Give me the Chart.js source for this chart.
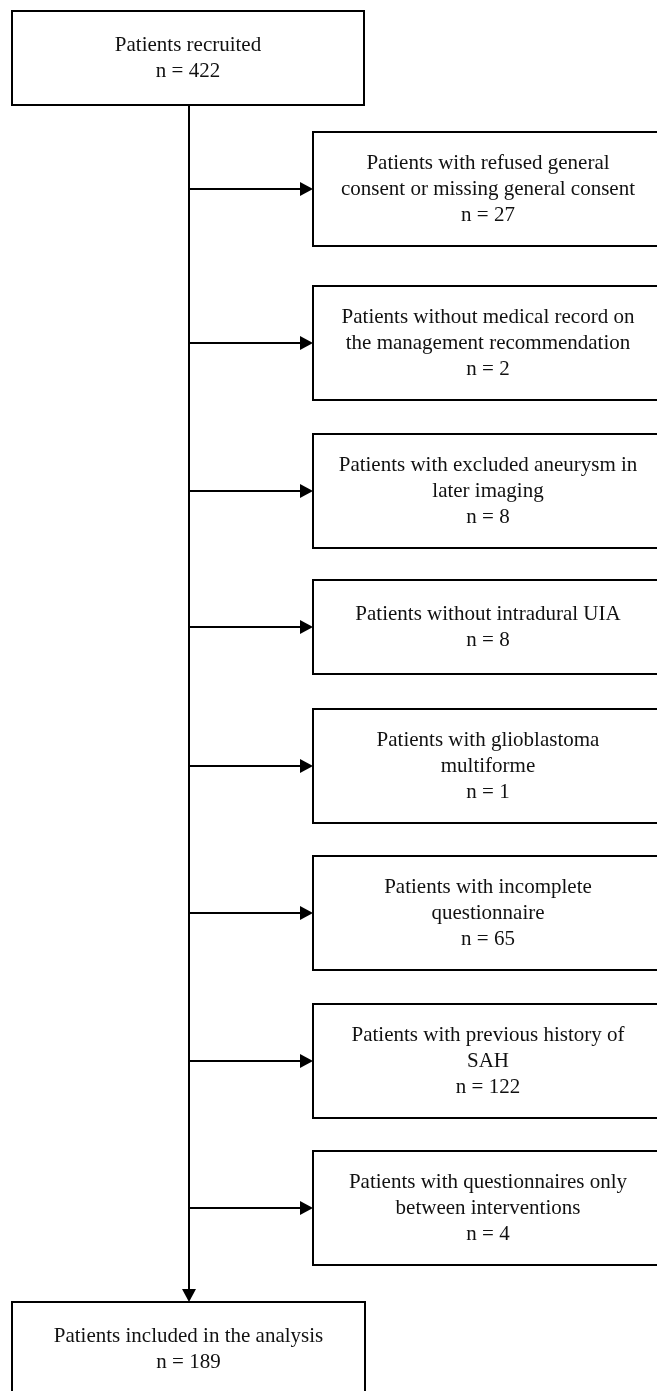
<!DOCTYPE html>
<html><head><meta charset="utf-8">
<script src="https://cdn.jsdelivr.net/npm/chart.js@4.4.1/dist/chart.umd.min.js"></script>
<style>html,body{margin:0;padding:0;background:#fff;overflow:hidden}</style>
</head><body>
<div style="width:657px;height:1391px;position:relative"><canvas id="c" width="657" height="1391"></canvas></div>
<script>
// ---- data ----
const startLabel = ["Patients recruited"];
const startCount = 422;
const exclusionLabels = [
  ["Patients with refused general", "consent or missing general consent"],
  ["Patients without medical record on", "the management recommendation"],
  ["Patients with excluded aneurysm in", "later imaging"],
  ["Patients without intradural UIA"],
  ["Patients with glioblastoma", "multiforme"],
  ["Patients with incomplete", "questionnaire"],
  ["Patients with previous history of", "SAH"],
  ["Patients with questionnaires only", "between interventions"]
];
const exclusionCounts = [27, 2, 8, 8, 1, 65, 122, 4];
const finalLabel = ["Patients included in the analysis"];
const finalCount = 189;

// ---- layout (chart units == px) ----
const L = {
  mainLeft: 12, mainRight: 364, mainTop: 11,
  spineX: 189,
  sideLeft: 313, sideRight: 663, sideFirstTop: 132,
  sideGaps: [40, 34, 32, 35, 33, 34, 33],
  finalTop: 1302,
  lineH: 26, boxH2: 94, boxH3: 114,
  arrowLen: 13, arrowHalf: 7,
  font: '21px "Liberation Serif", "Times New Roman", serif'
};

function boxHeight(nLines) { return nLines >= 3 ? L.boxH3 : L.boxH2; }

const flowPlugin = {
  id: 'flow',
  afterDraw(chart) {
    const ctx = chart.ctx, sx = chart.scales.x, sy = chart.scales.y;
    const X = v => sx.getPixelForValue(v), Y = v => sy.getPixelForValue(v);
    ctx.save();
    ctx.strokeStyle = '#000'; ctx.fillStyle = '#000'; ctx.lineWidth = 2;
    ctx.font = L.font; ctx.textAlign = 'center'; ctx.textBaseline = 'middle';

    function box(x0, x1, top, lines) {
      const h = boxHeight(lines.length);
      ctx.strokeRect(X(x0), Y(top), X(x1) - X(x0), Y(top + h) - Y(top));
      const cx = (x0 + x1) / 2, cy = top + h / 2;
      ctx.fillStyle = '#111';
      lines.forEach((t, i) => {
        const yy = cy + (i - (lines.length - 1) / 2) * L.lineH;
        ctx.fillText(t, X(cx), Y(yy));
      });
      ctx.fillStyle = '#000';
      return h;
    }
    function arrowRight(x0, x1, y) {
      ctx.beginPath(); ctx.moveTo(X(x0), Y(y)); ctx.lineTo(X(x1 - L.arrowLen), Y(y)); ctx.stroke();
      ctx.beginPath(); ctx.moveTo(X(x1), Y(y));
      ctx.lineTo(X(x1 - L.arrowLen), Y(y - L.arrowHalf));
      ctx.lineTo(X(x1 - L.arrowLen), Y(y + L.arrowHalf)); ctx.closePath(); ctx.fill();
    }
    function arrowDown(x, y0, y1) {
      ctx.beginPath(); ctx.moveTo(X(x), Y(y0)); ctx.lineTo(X(x), Y(y1 - L.arrowLen)); ctx.stroke();
      ctx.beginPath(); ctx.moveTo(X(x), Y(y1));
      ctx.lineTo(X(x - L.arrowHalf), Y(y1 - L.arrowLen));
      ctx.lineTo(X(x + L.arrowHalf), Y(y1 - L.arrowLen)); ctx.closePath(); ctx.fill();
    }

    const mainH = box(L.mainLeft, L.mainRight, L.mainTop, startLabel.concat(['n = ' + startCount]));
    let top = L.sideFirstTop;
    exclusionLabels.forEach((lab, i) => {
      const lines = lab.concat(['n = ' + exclusionCounts[i]]);
      const h = box(L.sideLeft, L.sideRight, top, lines);
      arrowRight(L.spineX, L.sideLeft, top + h / 2);
      top += h + (L.sideGaps[i] || 0);
    });
    arrowDown(L.spineX, L.mainTop + mainH, L.finalTop);
    box(L.mainLeft, L.mainRight + 1, L.finalTop, finalLabel.concat(['n = ' + finalCount]));
    ctx.restore();
  }
};

new Chart(document.getElementById('c'), {
  type: 'scatter',
  data: { datasets: [{ data: [], pointRadius: 0 }] },
  options: {
    responsive: false, animation: false, devicePixelRatio: 1,
    layout: { padding: 0 },
    plugins: { legend: { display: false }, tooltip: { enabled: false } },
    scales: {
      x: { type: 'linear', min: 0, max: 657, display: false },
      y: { type: 'linear', min: 0, max: 1391, reverse: true, display: false }
    }
  },
  plugins: [flowPlugin]
});
</script>
</body></html>
